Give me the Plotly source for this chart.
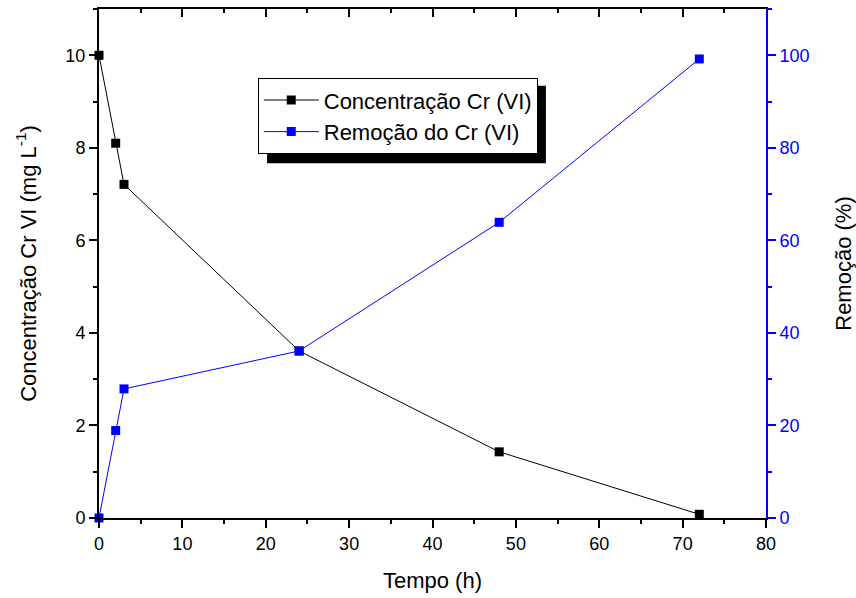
import plotly.graph_objects as go

tempo = [0, 2, 3, 24, 48, 72]
concentracao = [10.0, 8.1, 7.21, 3.61, 1.43, 0.08]
remocao = [0.0, 18.9, 27.9, 36.1, 63.9, 99.2]

x_ticks = [0, 10, 20, 30, 40, 50, 60, 70, 80]
left_ticks = [0, 2, 4, 6, 8, 10]
right_ticks = [0, 20, 40, 60, 80, 100]

FONT = "Liberation Sans, Arial, sans-serif"
BLUE = "#0000FF"

fig = go.Figure()
fig.add_trace(go.Scatter(
    x=tempo, y=concentracao, mode="lines+markers", name="Concentração Cr (VI)",
    line=dict(color="black", width=1), marker=dict(symbol="square", size=9, color="black"),
    xaxis="x", yaxis="y", cliponaxis=False))
fig.add_trace(go.Scatter(
    x=tempo, y=remocao, mode="lines+markers", name="Remoção do Cr (VI)",
    line=dict(color=BLUE, width=1), marker=dict(symbol="square", size=9, color=BLUE),
    xaxis="x", yaxis="y2", cliponaxis=False))
fig.add_trace(go.Scatter(x=[None], y=[None], xaxis="x2", yaxis="y", showlegend=False))

fig.update_layout(
    width=856, height=598,
    margin=dict(l=99, r=90, t=9, b=80),
    paper_bgcolor="white", plot_bgcolor="white",
    font=dict(family=FONT, color="black"),
    showlegend=True,
    legend=dict(x=0.238, y=0.864, xanchor="left", yanchor="top",
                bgcolor="white", bordercolor="black", borderwidth=1,
                font=dict(size=22, family=FONT), itemwidth=55,
                tracegroupgap=0),
    xaxis=dict(range=[0, 80], tickvals=x_ticks, ticks="outside", ticklen=8, tickwidth=2,
               tickcolor="black", showline=True, linecolor="black", linewidth=2,
               showgrid=False, zeroline=False, tickfont=dict(size=18), automargin=False,
               minor=dict(dtick=5, ticks="outside", ticklen=4, tickwidth=2, tickcolor="black"),
               title=dict(text="Tempo (h)", font=dict(size=22), standoff=20)),
    xaxis2=dict(range=[0, 80], overlaying="x", side="top", tickvals=x_ticks, ticks="inside",
                ticklen=8, tickwidth=2, tickcolor="black", showline=True, linecolor="black",
                linewidth=2, showgrid=False, zeroline=False, showticklabels=False, automargin=False,
                minor=dict(dtick=5, ticks="inside", ticklen=4, tickwidth=2, tickcolor="black")),
    yaxis=dict(range=[0, 11], tickvals=left_ticks, ticks="outside", ticklen=8, tickwidth=2,
               tickcolor="black", showline=True, linecolor="black", linewidth=2,
               showgrid=False, zeroline=False, tickfont=dict(size=18), automargin=False,
               minor=dict(dtick=1, ticks="outside", ticklen=4, tickwidth=2, tickcolor="black"),
               title=dict(text="Concentração Cr VI (mg L<sup>-1</sup>)", font=dict(size=22), standoff=23)),
    yaxis2=dict(range=[0, 110], tickvals=right_ticks, overlaying="y", side="right",
                ticks="outside", ticklen=8, tickwidth=2, tickcolor=BLUE, automargin=False,
                showline=True, linecolor=BLUE, linewidth=2, showgrid=False, zeroline=False,
                tickfont=dict(size=18, color=BLUE),
                minor=dict(dtick=10, ticks="outside", ticklen=4, tickwidth=2, tickcolor=BLUE),
                title=dict(text="Remoção (%)", font=dict(size=22, color="black"), standoff=27)),
)

# legend shadow
fig.add_shape(type="rect", xref="paper", yref="paper",
              x0=0.252, x1=0.670, y0=0.697, y1=0.849,
              fillcolor="black", line=dict(width=0), layer="below")

fig.write_html("out.html", config={"displayModeBar": False},
               post_script="document.body.style.margin='0';")
